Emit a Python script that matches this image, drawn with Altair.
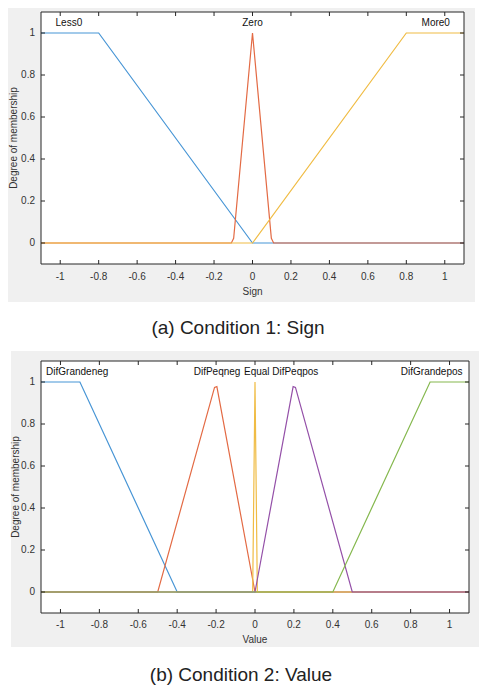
import altair as alt
import pandas as pd

# (a) condition 1: sign -- membership functions
sign_less0_x = [-1.1, -0.8, 0.0, 1.1]
sign_less0_y = [1, 1, 0, 0]
sign_zero_x = [-1.1, -0.11, -0.098, 0.0, 0.098, 0.11, 1.1]
sign_zero_y = [0, 0, 0.022, 1, 0.022, 0, 0]
sign_more0_x = [-1.1, 0.0, 0.8, 1.1]
sign_more0_y = [0, 0, 1, 1]
sign_names = ["Less0", "Zero", "More0"]
sign_label_x = [-0.955, 0.0, 0.953]
sign_label_y = [1.047, 1.047, 1.047]

# (b) condition 2: value -- membership functions
val_grandeneg_x = [-1.1, -0.9, -0.4, 1.1]
val_grandeneg_y = [1, 1, 0, 0]
val_peqneg_x = [-1.1, -0.5, -0.208, -0.196, 0.0, 1.1]
val_peqneg_y = [0, 0, 0.974, 0.978, 0, 0]
val_equal_x = [-1.1, -0.012, 0.0, 0.012, 1.1]
val_equal_y = [0, 0, 1, 0, 0]
val_peqpos_x = [-1.1, 0.0, 0.196, 0.208, 0.5, 1.1]
val_peqpos_y = [0, 0, 0.978, 0.974, 0, 0]
val_grandepos_x = [-1.1, 0.4, 0.9, 1.1]
val_grandepos_y = [0, 0, 1, 1]
val_names = ["DifGrandeneg", "DifPeqneg", "Equal", "DifPeqpos", "DifGrandepos"]
val_label_x = [-0.914, -0.195, 0.009, 0.207, 0.908]
val_label_y = [1.046, 1.046, 1.046, 1.046, 1.046]

x_ticks = [-1, -0.8, -0.6, -0.4, -0.2, 0, 0.2, 0.4, 0.6, 0.8, 1]
x_tick_labels = ["-1", "-0.8", "-0.6", "-0.4", "-0.2", "0", "0.2", "0.4", "0.6", "0.8", "1"]
y_ticks = [0, 0.2, 0.4, 0.6, 0.8, 1]
y_tick_labels = ["0", "0.2", "0.4", "0.6", "0.8", "1"]

BLUE = "#4795d5"
RED = "#e36a44"
YELLOW = "#f0bc44"
PURPLE = "#9450a8"
GREEN = "#85b84e"
INK = "#262626"
FONT = "Liberation Sans"

x_scale = alt.Scale(domain=[-1.1, 1.1], nice=False, zero=False)
y_scale = alt.Scale(domain=[-0.1, 1.1], nice=False, zero=False)
one = pd.DataFrame({"k": [0]})


def box(x1, x2, y1, y2, **kw):
    return alt.Chart(one).mark_rect(**kw).encode(
        x=alt.value(x1), x2=alt.value(x2), y=alt.value(y1), y2=alt.value(y2)
    )


def note(txt, x, y, **kw):
    return alt.Chart(one).mark_text(text=txt, font=FONT, **kw).encode(
        x=alt.value(x), y=alt.value(y))


def panel(series, names, lx, ly, xtitle, caption, w, h, env, gray, cap_xy, ytitle_x, xlab_y):
    X = lambda f: alt.X(f, scale=x_scale, axis=None)
    Y = lambda f: alt.Y(f, scale=y_scale, axis=None)
    layers = [
        box(*env, fill="white"),
        box(*gray, fill="#f0f0f0"),
        box(0, w, 0, h, fill="white"),
    ]
    for xs, ys, col in series:
        df = pd.DataFrame({"x": xs, "y": ys})
        layers.append(
            alt.Chart(df).mark_line(color=col, strokeWidth=1.2).encode(x=X("x:Q"), y=Y("y:Q"))
        )
    lab = pd.DataFrame({"name": names, "x": lx, "y": ly})
    layers.append(
        alt.Chart(lab).mark_text(fontSize=10, color="#111111", baseline="middle", font=FONT).encode(
            x=X("x:Q"), y=Y("y:Q"), text="name:N")
    )
    xt = pd.DataFrame({"t": x_ticks, "lab": x_tick_labels})
    yt = pd.DataFrame({"t": y_ticks, "lab": y_tick_labels})
    for y1, y2 in [(0, 4), (h - 4, h)]:
        layers.append(alt.Chart(xt).mark_rule(color=INK, strokeWidth=1).encode(
            x=X("t:Q"), y=alt.value(y1), y2=alt.value(y2)))
    for x1, x2 in [(0, 4), (w - 4, w)]:
        layers.append(alt.Chart(yt).mark_rule(color=INK, strokeWidth=1).encode(
            y=Y("t:Q"), x=alt.value(x1), x2=alt.value(x2)))
    layers.append(box(0, w, 0, h, fillOpacity=0, stroke=INK, strokeWidth=1))
    # tick labels
    layers.append(alt.Chart(xt).mark_text(fontSize=10, color="#333333", font=FONT,
                                          align="center", baseline="middle").encode(
        x=X("t:Q"), y=alt.value(xlab_y), text="lab:N"))
    layers.append(alt.Chart(yt).mark_text(fontSize=10, color="#333333", font=FONT,
                                          align="right", baseline="middle").encode(
        y=Y("t:Q"), x=alt.value(-6), text="lab:N"))
    # axis titles
    layers.append(note(xtitle, w / 2, xlab_y + 15, fontSize=10, color="#333333",
                       align="center", baseline="middle"))
    layers.append(note("Degree of membership", ytitle_x, h / 2, fontSize=10, color="#333333",
                       align="center", baseline="middle", angle=270))
    layers.append(note(caption, cap_xy[0], cap_xy[1], fontSize=19, color="#222222",
                       align="center", baseline="middle"))
    return alt.layer(*layers).properties(width=w, height=h)


p1 = panel(
    [(sign_less0_x, sign_less0_y, BLUE),
     (sign_zero_x, sign_zero_y, RED),
     (sign_more0_x, sign_more0_y, YELLOW)],
    sign_names, sign_label_x, sign_label_y, "Sign", "(a) Condition 1: Sign",
    423, 252, (-33, 434, -4, 339), (-33, 434, -4, 290), (197, 316), -27, 265,
)
p2 = panel(
    [(val_grandeneg_x, val_grandeneg_y, BLUE),
     (val_peqneg_x, val_peqneg_y, RED),
     (val_equal_x, val_equal_y, YELLOW),
     (val_peqpos_x, val_peqpos_y, PURPLE),
     (val_grandepos_x, val_grandepos_y, GREEN)],
    val_names, val_label_x, val_label_y, "Value", "(b) Condition 2: Value",
    428, 252, (-30, 438, -10, 330), (-30, 438, -10, 286), (200, 314), -25, 264,
)

chart = alt.vconcat(p1, p2, spacing=0).properties(
    padding=0, background="white"
).configure(font=FONT).configure_view(strokeWidth=0)

chart.save("out.html", embed_options={"renderer": "svg", "actions": False})
